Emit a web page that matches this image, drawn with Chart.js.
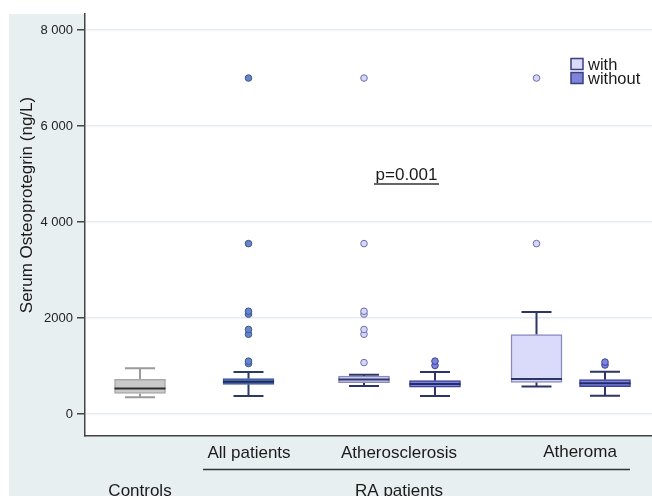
<!DOCTYPE html>
<html>
<head>
<meta charset="utf-8">
<script src="https://cdn.jsdelivr.net/npm/chart.js@4.4.1/dist/chart.umd.min.js"></script>
<style>
  html, body { margin: 0; padding: 0; background: #fff; }
  #wrap { width: 652px; height: 496px; }
</style>
</head>
<body>
<div id="wrap"><canvas id="opgChart" width="652" height="496"></canvas></div>
<script>
// boxes, left to right
const boxNames = ['Controls', 'All patients', 'Atherosclerosis with', 'Atherosclerosis without', 'Atheroma with', 'Atheroma without'];
const boxKind = ['control', 'all', 'with', 'without', 'with', 'without'];
const whiskerLow = [345, 372, 580, 372, 574, 380];
const q1 = [428, 616, 651, 560, 658, 568];
const median = [532, 672, 720, 622, 727, 637];
const q3 = [720, 735, 789, 693, 1653, 714];
const whiskerHigh = [950, 873, 818, 873, 2125, 880];
const outliers = [
    [],
    [1050, 1100, 1660, 1760, 2080, 2140, 3550, 7000],
    [1070, 1660, 1760, 2080, 2140, 3550, 7000],
    [1010, 1100],
    [3550, 7000],
    [1020, 1080]
];

const yTicks = [0, 2000, 4000, 6000, 8000];
const yTickLabels = ['0', '2000', '4 000', '6 000', '8 000'];
const yTitle = 'Serum Osteoprotegrin (ng/L)';
const groupLabels = ['Controls', 'All patients', 'Atherosclerosis', 'Atheroma'];
const superLabel = 'RA patients';
const legendLabels = ['with', 'without'];
const pValueText = 'p=0.001';

// where each box sits on the x axis (0..567 = width of plot area)
const slots = [55, 163.5, 279, 350, 451.5, 520];
const boxWidth = 51;
const capWidth = 30;

const palette = {
    control: { fill: '#c9c9c9', border: '#a8a8a8', line: '#9a9a9a', median: '#2e2e2e' },
    all:     { fill: '#5a79c0', border: '#3d5a9c', line: '#2c3a68', median: '#1f2b52', point: '#6785c7', pointBorder: '#3a5796' },
    with:    { fill: '#dadafa', border: '#8a8ac2', line: '#2c3566', median: '#2c3566', point: '#d6d6f7', pointBorder: '#6d6db0' },
    without: { fill: '#7d84d9', border: '#3c419c', line: '#2c3566', median: '#252a6a', point: '#7d84d9', pointBorder: '#3c419c' }
};
const font = 'Liberation Sans, Arial, sans-serif';

const boxData = boxNames.map((n, i) => ({ x: slots[i], y: [q1[i], q3[i]] }));
const outlierData = [];
outliers.forEach((list, i) => list.forEach(v => outlierData.push({ x: slots[i], y: v, kind: boxKind[i] })));

// whiskers, caps, medians, background and the text around the plot
const boxPlotExtras = {
    id: 'boxPlotExtras',
    beforeDraw(chart) {
        const { ctx, chartArea: ca, width, height } = chart;
        ctx.save();
        ctx.fillStyle = '#fff';
        ctx.fillRect(0, 0, width, height);
        ctx.fillStyle = '#e8eff1';
        ctx.fillRect(9, 14, width - 9, height - 14);
        ctx.fillStyle = '#fff';
        ctx.fillRect(ca.left, ca.top, ca.right - ca.left, ca.bottom - ca.top);
        ctx.restore();
    },
    beforeDatasetsDraw(chart) {
        const { ctx, scales: { x, y } } = chart;
        ctx.save();
        ctx.lineWidth = 2;
        boxNames.forEach((n, i) => {
            const px = x.getPixelForValue(slots[i]);
            ctx.strokeStyle = palette[boxKind[i]].line;
            ctx.beginPath();
            ctx.moveTo(px, y.getPixelForValue(q3[i]));
            ctx.lineTo(px, y.getPixelForValue(whiskerHigh[i]));
            ctx.moveTo(px, y.getPixelForValue(q1[i]));
            ctx.lineTo(px, y.getPixelForValue(whiskerLow[i]));
            [whiskerHigh[i], whiskerLow[i]].forEach(v => {
                const py = y.getPixelForValue(v);
                ctx.moveTo(px - capWidth / 2, py);
                ctx.lineTo(px + capWidth / 2, py);
            });
            ctx.stroke();
        });
        ctx.restore();
    },
    afterDatasetsDraw(chart) {
        const { ctx, scales: { x, y } } = chart;
        ctx.save();
        // medians
        ctx.lineWidth = 2;
        boxNames.forEach((n, i) => {
            const px = x.getPixelForValue(slots[i]);
            const py = y.getPixelForValue(median[i]);
            ctx.strokeStyle = palette[boxKind[i]].median;
            ctx.beginPath();
            ctx.moveTo(px - boxWidth / 2, py);
            ctx.lineTo(px + boxWidth / 2, py);
            ctx.stroke();
        });

        ctx.lineWidth = 1.5;

        // legend
        ['with', 'without'].forEach((k, i) => {
            const top = 58.5 + i * 14;
            ctx.fillStyle = palette[k].fill;
            ctx.fillRect(571, top, 12, 11);
            ctx.strokeStyle = '#3a3f80';
            ctx.strokeRect(571, top, 12, 11);
            ctx.fillStyle = '#1a1a1a';
            ctx.font = '16.5px ' + font;
            ctx.textAlign = 'left';
            ctx.textBaseline = 'alphabetic';
            ctx.fillText(legendLabels[i], 588, top + 11);
        });

        // p value
        ctx.font = '17px ' + font;
        ctx.textAlign = 'center';
        ctx.fillText(pValueText, 406.5, 180);
        ctx.strokeStyle = '#333';
        ctx.beginPath();
        ctx.moveTo(374, 184);
        ctx.lineTo(439, 184);
        ctx.stroke();

        // group labels below the axis
        ctx.fillText(groupLabels[1], 249, 458);
        ctx.fillText(groupLabels[2], 399, 458);
        ctx.fillText(groupLabels[3], 580, 457);
        ctx.fillText(groupLabels[0], 140, 495.5);
        ctx.fillText(superLabel, 399, 495.5);
        ctx.beginPath();
        ctx.moveTo(203, 469.5);
        ctx.lineTo(630, 469.5);
        ctx.stroke();

        // y title
        ctx.translate(27, 205);
        ctx.rotate(-Math.PI / 2);
        ctx.textBaseline = 'middle';
        ctx.fillText(yTitle, 0, 0);
        ctx.restore();
    }
};

const ctx = document.getElementById('opgChart').getContext('2d');
new Chart(ctx, {
    type: 'bar',
    data: {
        datasets: [{
            label: 'boxes',
            data: boxData,
            backgroundColor: boxKind.map(k => palette[k].fill),
            borderColor: boxKind.map(k => palette[k].border),
            borderWidth: 1.5,
            borderSkipped: false,
            barThickness: boxWidth,
            grouped: false
        }, {
            type: 'scatter',
            label: 'outliers',
            data: outlierData,
            pointRadius: 3.3,
            pointBorderWidth: 1,
            pointBackgroundColor: c => palette[c.raw.kind].point,
            pointBorderColor: c => palette[c.raw.kind].pointBorder
        }]
    },
    options: {
        responsive: false,
        animation: false,
        layout: { autoPadding: false, padding: { top: 14, left: 0, right: 0, bottom: 0 } },
        plugins: {
            legend: { display: false },
            tooltip: { enabled: false }
        },
        scales: {
            x: {
                type: 'linear',
                offset: false,
                min: 0,
                max: 567,
                ticks: { display: false },
                grid: { display: false, drawTicks: false, offset: false },
                border: { color: '#444', width: 1.5 },
                afterFit: s => { s.height = 60; s.paddingLeft = 0; s.paddingRight = 0; }
            },
            y: {
                min: -460,
                max: 8335,
                afterBuildTicks: s => { s.ticks = yTicks.map(v => ({ value: v })); },
                ticks: {
                    callback: (v) => yTickLabels[yTicks.indexOf(v)],
                    font: { family: font, size: 13 },
                    color: '#222',
                    padding: 4
                },
                grid: { color: '#e4ecf2', lineWidth: 1.5, tickColor: '#444', tickLength: 8 },
                border: { color: '#444', width: 1.5 },
                afterFit: s => { s.width = 85; s.paddingTop = 0; s.paddingBottom = 0; }
            }
        }
    },
    plugins: [boxPlotExtras]
});
</script>
</body>
</html>
